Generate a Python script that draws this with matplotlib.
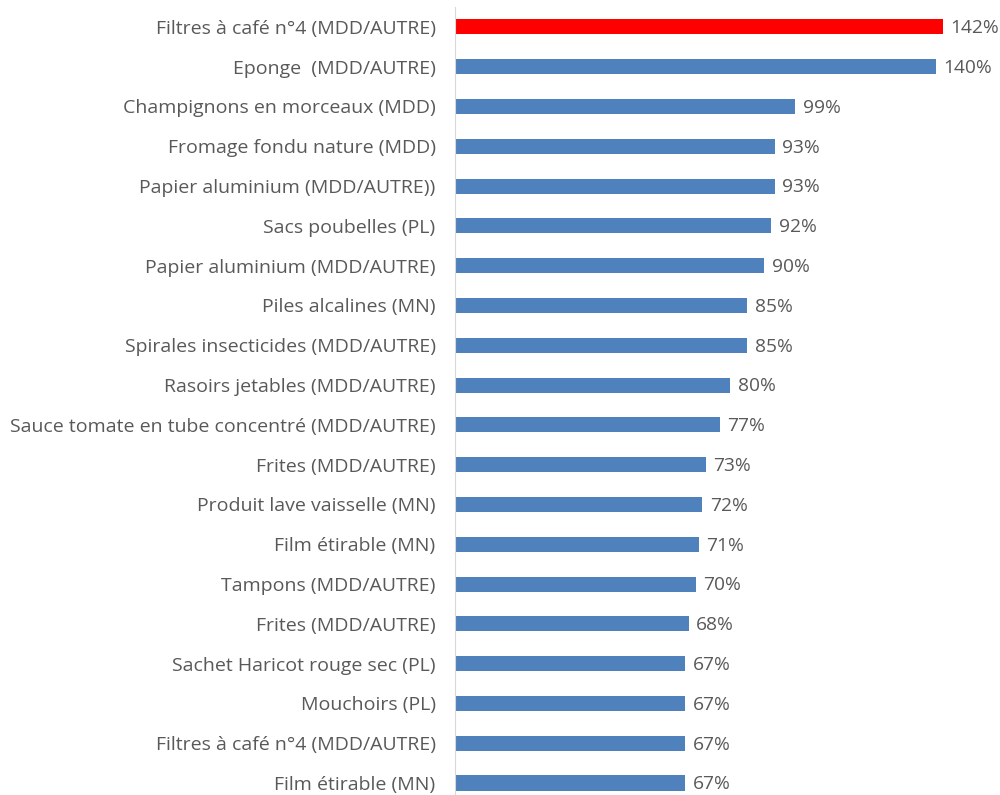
import matplotlib

matplotlib.use("Agg")
import matplotlib.pyplot as plt

categories = [
    "Filtres à café n°4 (MDD/AUTRE)",
    "Eponge  (MDD/AUTRE)",
    "Champignons en morceaux (MDD)",
    "Fromage fondu nature (MDD)",
    "Papier aluminium (MDD/AUTRE))",
    "Sacs poubelles (PL)",
    "Papier aluminium (MDD/AUTRE)",
    "Piles alcalines (MN)",
    "Spirales insecticides (MDD/AUTRE)",
    "Rasoirs jetables (MDD/AUTRE)",
    "Sauce tomate en tube concentré (MDD/AUTRE)",
    "Frites (MDD/AUTRE)",
    "Produit lave vaisselle (MN)",
    "Film étirable (MN)",
    "Tampons (MDD/AUTRE)",
    "Frites (MDD/AUTRE)",
    "Sachet Haricot rouge sec (PL)",
    "Mouchoirs (PL)",
    "Filtres à café n°4 (MDD/AUTRE)",
    "Film étirable (MN)",
]
values = [142, 140, 99, 93, 93, 92, 90, 85, 85, 80, 77, 73, 72, 71, 70, 68, 67, 67, 67, 67]
highlight = 0

plt.rcParams["font.family"] = ["Open Sans", "DejaVu Sans"]

fig = plt.figure(figsize=(10, 7.95), dpi=100)
ax = fig.add_axes([0.455, 0.0, 0.545, 788 / 795])

colors = ["#ff0000" if i == highlight else "#4f81bd" for i in range(len(values))]
positions = list(range(len(values)))
bars = ax.barh(positions, values, height=0.38, color=colors)

ax.set_ylim(19.3, -0.5)
ax.set_xlim(0, 158.6)
ax.set_yticks(positions)
ax.set_yticklabels(categories, fontsize=14, color="#595959")
ax.tick_params(axis="y", length=0, pad=14)
ax.set_xticks([])

for side in ("top", "right", "bottom"):
    ax.spines[side].set_visible(False)
ax.spines["left"].set_color("#d9d9d9")

for bar, value in zip(bars, values):
    ax.annotate(
        f"{value}%",
        xy=(bar.get_width(), bar.get_y() + bar.get_height() / 2),
        xytext=(5.5, -1),
        textcoords="offset points",
        ha="left",
        va="center",
        fontsize=13.8,
        color="#595959",
    )

fig.savefig("out.png", dpi=100)
